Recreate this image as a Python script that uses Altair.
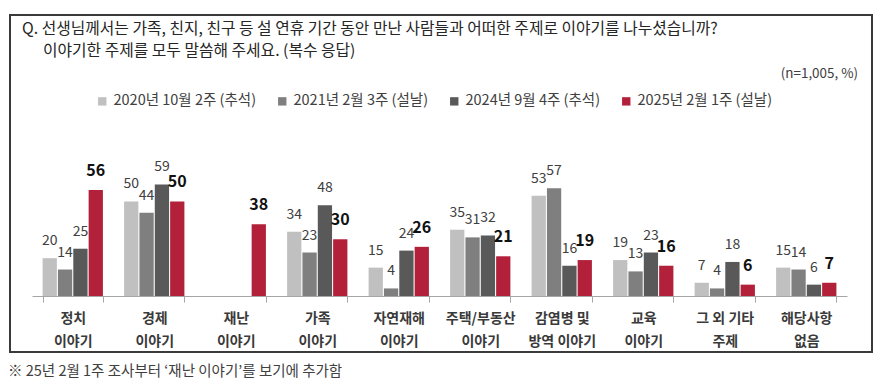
import altair as alt
import pandas as pd

categories = ["정치\n이야기", "경제\n이야기", "재난\n이야기", "가족\n이야기", "자연재해\n이야기",
              "주택/부동산\n이야기", "감염병 및\n방역 이야기", "교육\n이야기", "그 외 기타\n주제", "해당사항\n없음"]
series = ["2020년 10월 2주 (추석)", "2021년 2월 3주 (설날)", "2024년 9월 4주 (추석)", "2025년 2월 1주 (설날)"]
s2020 = [20, 50, None, 34, 15, 35, 53, 19, 7, 15]
s2021 = [14, 44, None, 23, 4, 31, 57, 13, 4, 14]
s2024 = [25, 59, None, 48, 24, 32, 16, 23, 18, 6]
s2025 = [56, 50, 38, 30, 26, 21, 19, 16, 6, 7]
colors = ["#C0C0C0", "#7F7F7F", "#595959", "#B2203A"]

title1 = "Q. 선생님께서는 가족, 친지, 친구 등 설 연휴 기간 동안 만난 사람들과 어떠한 주제로 이야기를 나누셨습니까?"
title2 = "이야기한 주제를 모두 말씀해 주세요. (복수 응답)"
note_n = "(n=1,005, %)"
footnote = "※ 25년 2월 1주 조사부터 ‘재난 이야기’를 보기에 추가함"

FONT = "Noto Sans CJK KR"

rows = []
for name, vals in zip(series, [s2020, s2021, s2024, s2025]):
    for c, v in zip(categories, vals):
        if v is not None:
            rows.append({"cat": c, "series": name, "value": v})
df = pd.DataFrame(rows)

x_enc = alt.X("cat:N", sort=categories,
              scale=alt.Scale(paddingInner=0.26, paddingOuter=0.13),
              axis=alt.Axis(title=None, labelAngle=0, tickBand="extent",
                            labelExpr="split(datum.label, '\\n')",
                            labelFont=FONT, labelFontSize=14, labelFontWeight="bold",
                            labelColor="#3A3A3A",
                            labelLineHeight=23, labelPadding=9,
                            domainColor="#A6A6A6", tickColor="#A6A6A6", tickSize=6,
                            grid=False))
xo_enc = alt.XOffset("series:N", sort=series,
                     scale=alt.Scale(domain=series, paddingInner=0.07, paddingOuter=0))
y_enc = alt.Y("value:Q", scale=alt.Scale(domain=[0, 77.2], nice=False), axis=None)

base = alt.Chart(df)

bars = base.mark_bar().encode(
    x=x_enc, xOffset=xo_enc, y=y_enc,
    color=alt.Color("series:N", sort=series,
                    scale=alt.Scale(domain=series, range=colors),
                    legend=alt.Legend(title=None, orient="none", legendX=63, legendY=-56,
                                      direction="horizontal", symbolType="square",
                                      symbolSize=70, symbolStrokeWidth=0,
                                      labelFont=FONT, labelFontSize=14.5, labelColor="#404040",
                                      columnPadding=18, labelOffset=4)),
)

gray_labels = base.transform_filter(
    alt.datum.series != series[3]
).mark_text(font=FONT, fontSize=14, color="#404040", baseline="middle", dy=-17).encode(
    x=x_enc, xOffset=xo_enc, y=y_enc, text="value:Q"
)

red_labels = base.transform_filter(
    alt.datum.series == series[3]
).mark_text(font=FONT, fontSize=16, fontWeight="bold", color="#111111", baseline="middle", dy=-19).encode(
    x=x_enc, xOffset=xo_enc, y=y_enc, text="value:Q"
)

box = alt.Chart(pd.DataFrame({"k": [1]})).mark_rect(
    fill=None, stroke="#3A3A3A", strokeWidth=2
).encode(x=alt.value(-22), x2=alt.value(840), y=alt.value(-135), y2=alt.value(202))


def txt(s, x, y, size, align="left", color="#262626"):
    return alt.Chart(pd.DataFrame({"t": [s]})).mark_text(
        font=FONT, fontSize=size, align=align, baseline="middle", color=color
    ).encode(text="t:N", x=alt.value(x), y=alt.value(y))


chart = alt.layer(
    box,
    bars, gray_labels, red_labels,
    txt(title1, -10, -121, 15.8),
    txt(title2, 11, -99, 15.8),
    txt(note_n, 826, -76, 13.4, align="right", color="#404040"),
    txt(footnote, -24, 222, 14.5, color="#404040"),
).properties(
    width=815, height=146,
    padding={"left": 24, "top": 142, "right": 29, "bottom": 85},
    autosize=alt.AutoSizeParams(type="none"),
    background="white",
).configure_view(stroke=None, strokeWidth=0)

chart.save("out.html", embed_options={"renderer": "svg", "actions": False})
